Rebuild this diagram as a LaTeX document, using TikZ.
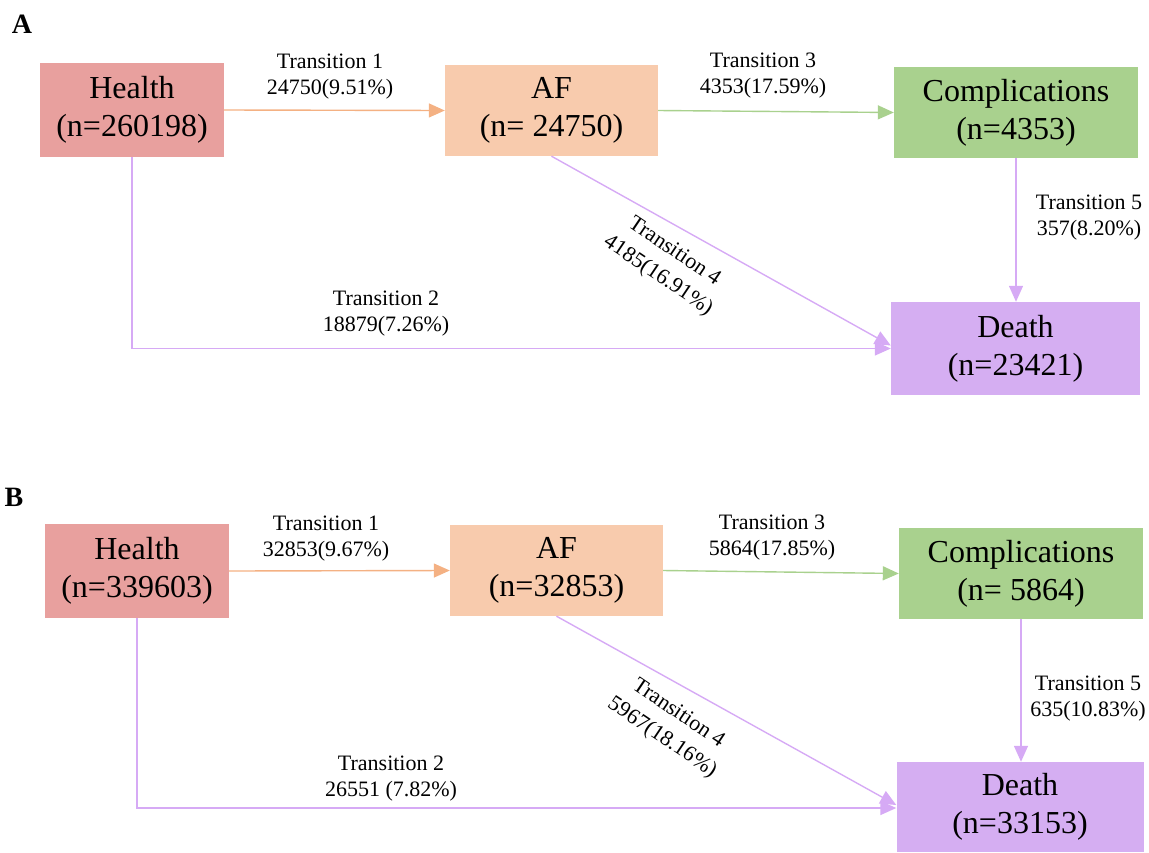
\documentclass[tikz,border=0pt]{standalone}
\usepackage{fontspec}
\setmainfont{Liberation Serif}
\usetikzlibrary{arrows.meta}
\definecolor{chealth}{HTML}{E8A09E}
\definecolor{caf}{HTML}{F8CBAD}
\definecolor{ccomp}{HTML}{A9D18E}
\definecolor{cdeath}{HTML}{D5AEF2}
\definecolor{lorange}{HTML}{F4B183}
\definecolor{lgreen}{HTML}{A9D18E}
\definecolor{lpurple}{HTML}{D6AAF5}
\tikzset{
  statebox/.style={rectangle, inner sep=0pt, align=center, font=\fontsize{32}{38}\selectfont},
  translabel/.style={align=center, inner sep=0pt, font=\fontsize{22}{26}\selectfont},
  rotlabel/.style={align=center, inner sep=0pt, rotate=-34, font=\fontsize{22}{29}\selectfont},
  panel/.style={inner sep=0pt, font=\fontsize{28}{30}\selectfont\bfseries},
  conn/.style={line width=1.4pt, -{Triangle[length=16pt,width=14pt]}},
}
\begin{document}
\begin{tikzpicture}[x=1pt,y=-1pt]
\useasboundingbox (0,0) rectangle (1149,852);
% ---------- Panel A ----------
\node[panel] (labA) at (22,24) {A};
\node[statebox, fill=chealth, minimum width=184pt, minimum height=94pt] (hA) at (132,110) {Health\\(n=260198)};
\node[statebox, fill=caf, minimum width=213pt, minimum height=91pt] (afA) at (551.5,110.5) {AF\\(n= 24750)};
\node[statebox, fill=ccomp, minimum width=244pt, minimum height=91pt] (cA) at (1016,112.5) {Complications\\(n=4353)};
\node[statebox, fill=cdeath, minimum width=249pt, minimum height=93pt] (dA) at (1015.5,348.5) {Death\\(n=23421)};

\draw[conn, lorange] (hA.east) -- (afA.west);
\draw[conn, lgreen] (afA.east) -- (cA.west);
\draw[conn, lpurple] (cA.south) -- (cA.south |- dA.north);
\draw[conn, lpurple] (afA.south) -- ([yshift=3pt]dA.west);
\draw[conn, lpurple] (hA.south) |- (dA.west);

\node[translabel] (t1A) at (330,77) {Transition 1\\24750(9.51\%)};
\node[translabel] (t3A) at (763,76) {Transition 3\\4353(17.59\%)};
\node[translabel] (t5A) at (1089,218) {Transition 5\\357(8.20\%)};
\node[translabel] (t2A) at (386,314) {Transition 2\\18879(7.26\%)};
\node[rotlabel] (t4A) at (666,264) {Transition 4\\4185(16.91\%)};

% ---------- Panel B ----------
\node[panel] (labB) at (14,497) {B};
\node[statebox, fill=chealth, minimum width=184pt, minimum height=94pt] (hB) at (137,571) {Health\\(n=339603)};
\node[statebox, fill=caf, minimum width=213pt, minimum height=91pt] (afB) at (556.5,570.5) {AF\\(n=32853)};
\node[statebox, fill=ccomp, minimum width=244pt, minimum height=91pt] (cB) at (1021,573.5) {Complications\\(n= 5864)};
\node[statebox, fill=cdeath, minimum width=247pt, minimum height=90pt] (dB) at (1020,807) {Death\\(n=33153)};

\draw[conn, lorange] (hB.east) -- (afB.west);
\draw[conn, lgreen] (afB.east) -- (cB.west);
\draw[conn, lpurple] (cB.south) -- (cB.south |- dB.north);
\draw[conn, lpurple] (afB.south) -- ([yshift=2pt]dB.west);
\draw[conn, lpurple] (hB.south) |- ([yshift=-1pt]dB.west);

\node[translabel] (t1B) at (326,539) {Transition 1\\32853(9.67\%)};
\node[translabel] (t3B) at (772,538) {Transition 3\\5864(17.85\%)};
\node[translabel] (t5B) at (1088,699) {Transition 5\\635(10.83\%)};
\node[translabel] (t2B) at (391,779) {Transition 2\\26551 (7.82\%)};
\node[rotlabel] (t4B) at (670,726) {Transition 4\\5967(18.16\%)};
\end{tikzpicture}
\end{document}
